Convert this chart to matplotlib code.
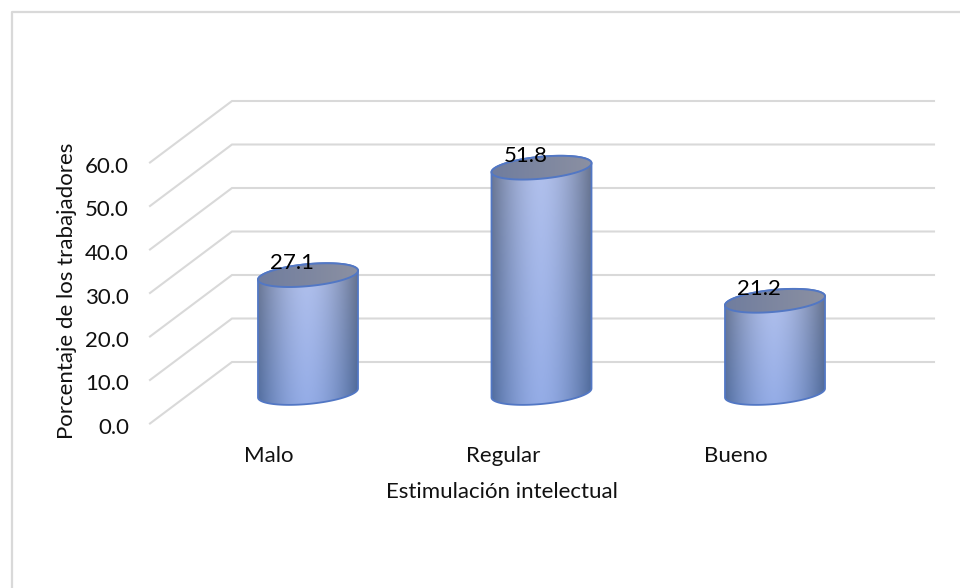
import numpy as np
import matplotlib
matplotlib.use("Agg")
import matplotlib.pyplot as plt
from matplotlib.colors import to_rgb
from matplotlib.patches import PathPatch
from matplotlib.path import Path

categories = ["Malo", "Regular", "Bueno"]
values = [27.1, 51.8, 21.2]
axis_ticks = [0, 10, 20, 30, 40, 50, 60]
axis_labels = ["0.0", "10.0", "20.0", "30.0", "40.0", "50.0", "60.0"]

plt.rcParams["font.family"] = ["Lato", "DejaVu Sans"]

W, H = 960, 588
PX_X = 233.5      # pixels per category step
PX_Y = 4.35       # pixels per percentage point
X0, Y0 = 308, 393 # pixel position of the first cylinder's base centre
FS = 16

fig = plt.figure(figsize=(W / 100, H / 100), dpi=100, facecolor="white")
ax = fig.add_axes([0, 0, 1, 1])
ax.set_xlim(-X0 / PX_X, (W - X0) / PX_X)
ax.set_ylim((Y0 - H) / PX_Y, Y0 / PX_Y)
ax.axis("off")


def dx(px):
    return px / PX_X


def dy(px):
    return px / PX_Y


# Chart frame: only the top and left edges are visible
frame = "#d9d9d9"
ax.plot([dx(11.5 - X0), dx(11.5 - X0), dx(W - X0)],
        [dy(Y0 - H), dy(Y0 - 11.5), dy(Y0 - 11.5)],
        color=frame, lw=1.6, solid_capstyle="butt", zorder=1)

# Floor-to-wall gridlines in pseudo perspective
front_x, back_x, end_x = dx(150 - X0), dx(232 - X0), dx(934 - X0)
front_off, back_off = dy(Y0 - 423.5), dy(Y0 - 362)
for v in axis_ticks:
    ax.plot([front_x, back_x, end_x],
            [v + front_off, v + back_off, v + back_off],
            color="#d9d9d9", lw=1.5, solid_joinstyle="miter", zorder=1)

SEMI_W = dx(50)
TILT = dy(4.5)
SEMI_H = dy(11)


def ellipse(cx, cy, n=120):
    t = np.linspace(0, 2 * np.pi, n)
    return cx + SEMI_W * np.cos(t), cy + TILT * np.cos(t) + SEMI_H * np.sin(t)


def body_path(cx, top):
    t = np.linspace(0, np.pi, 60)
    bx = cx - SEMI_W * np.cos(t)
    by = -TILT * np.cos(t) - SEMI_H * np.sin(t)
    tx = cx + SEMI_W * np.cos(t)
    ty = top + TILT * np.cos(t) + SEMI_H * np.sin(t)
    xy = np.column_stack([np.r_[bx, tx], np.r_[by, ty]])
    return Path(np.vstack([xy, xy[0]]), closed=True)


def body_shade():
    # Horizontal sheen, blending to a more saturated blue toward the base
    s = np.linspace(-1, 1, 200)
    u = np.linspace(0, 1, 120)[:, None]
    light = 1 - np.abs(s + 0.02) ** 1.7
    light = light[None, :, None]
    top_edge, top_mid = np.array(to_rgb("#6b7690")), np.array(to_rgb("#b2c1ec"))
    low_edge, low_mid = np.array(to_rgb("#506c9e")), np.array(to_rgb("#94ace6"))
    edge = top_edge * u[..., None] + low_edge * (1 - u[..., None])
    mid = top_mid * u[..., None] + low_mid * (1 - u[..., None])
    return edge * (1 - light) + mid * light


def cap_shade():
    s = np.linspace(0, 1, 100)[None, :, None]
    a, b = np.array(to_rgb("#707d9e")), np.array(to_rgb("#8b90a2"))
    return a * (1 - s) + b * s


stroke = "#5277c4"
for i, (name, v) in enumerate(zip(categories, values)):
    # Cylinder wall
    path = body_path(i, v)
    im = ax.imshow(body_shade(), origin="lower", aspect="auto", zorder=3,
                   interpolation="bilinear",
                   extent=(i - SEMI_W, i + SEMI_W, -dy(12), v + dy(12)))
    im.set_clip_path(PathPatch(path, transform=ax.transData))
    ax.add_patch(PathPatch(path, fc="none", ec=stroke, lw=1.3, zorder=4))

    # Cylinder cap
    ex, ey = ellipse(i, v)
    cap = Path(np.column_stack([ex, ey]), closed=True)
    im2 = ax.imshow(cap_shade(), origin="lower", aspect="auto", zorder=5,
                    extent=(i - SEMI_W, i + SEMI_W, v - dy(12), v + dy(12)))
    im2.set_clip_path(PathPatch(cap, transform=ax.transData))
    ax.add_patch(PathPatch(cap, fc="none", ec=stroke, lw=1.4, zorder=6))

    # Value label and category label
    ax.text(i - dx(16), v + dy(6), f"{v:.1f}", ha="center", va="baseline",
            fontsize=FS, color="black", zorder=7)
    ax.text(i + dx([-39, -38, -39][i]), dy(Y0 - 462), name, ha="center",
            va="baseline", fontsize=FS, color="#111111")

ax.set_xlim(-X0 / PX_X, (W - X0) / PX_X)
ax.set_ylim((Y0 - H) / PX_Y, Y0 / PX_Y)

# Value axis labels along the front edge
for v, lab in zip(axis_ticks, axis_labels):
    ax.text(dx(129 - X0), v + dy(Y0 - 434), lab, ha="right", va="baseline",
            fontsize=FS, color="#111111")

ax.text(dx(67 - X0), dy(Y0 - 291), "Porcentaje de los trabajadores", rotation=90,
        ha="center", va="center", fontsize=FS, color="#111111")
ax.text(dx(502 - X0), dy(Y0 - 498.5), "Estimulación intelectual", ha="center",
        va="baseline", fontsize=FS, color="#111111")

fig.savefig("out.png", dpi=100)
